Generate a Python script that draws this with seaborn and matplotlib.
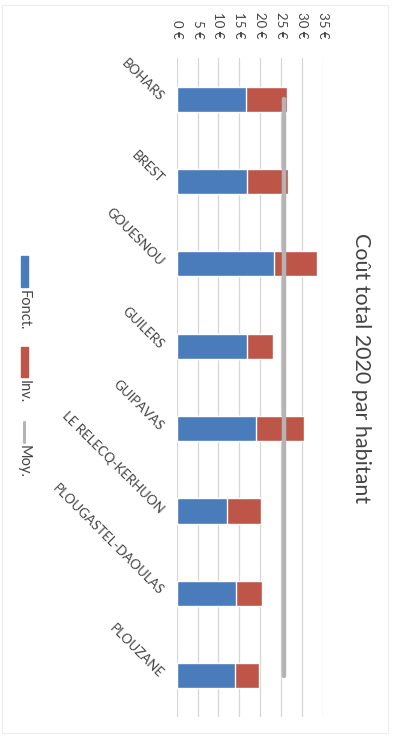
import numpy as np
import pandas as pd
import matplotlib
matplotlib.use("Agg")
import matplotlib.pyplot as plt
from matplotlib.patches import Rectangle
from matplotlib.lines import Line2D
import seaborn as sns

# Coût par habitant 2020 (€)
communes = ["BOHARS", "BREST", "GOUESNOU", "GUILERS", "GUIPAVAS",
            "LE RELECQ-KERHUON", "PLOUGASTEL-DAOULAS", "PLOUZANE"]
fonct = [16.6, 16.9, 23.3, 16.8, 19.0, 12.0, 14.1, 14.0]
inv = [9.9, 9.9, 10.3, 6.2, 11.4, 8.1, 6.4, 5.7]
moy = [25.8] * len(communes)
value_ticks = [0, 5, 10, 15, 20, 25, 30, 35]
title = "Coût total 2020 par habitant"
legend_labels = ["Fonct.", "Inv.", "Moy."]

BLUE = "#4a7bbb"
RED = "#bd5548"
GREY = "#b4b4b4"
TEXT = "#444444"

df = pd.DataFrame({"commune": communes, "fonct": fonct, "inv": inv, "moy": moy})
df["total"] = df["fonct"] + df["inv"]

sns.set_theme(style="white")
plt.rcParams["font.family"] = ["Lato", "DejaVu Sans"]

W, H = 396, 736
fig = plt.figure(figsize=(W / 100, H / 100), dpi=100)
fig.patch.set_facecolor("white")

# plot area in pixel coordinates
x0, x1 = 176.7, 322.7
y_top, y_bot = 58.0, 716.9
ax = fig.add_axes([x0 / W, 1 - y_bot / H, (x1 - x0) / W, (y_bot - y_top) / H])

sns.barplot(data=df, x="total", y="commune", color=RED, width=0.305,
            saturation=1, ax=ax, orient="h")
sns.barplot(data=df, x="fonct", y="commune", color=BLUE, width=0.305,
            saturation=1, ax=ax, orient="h")
sns.lineplot(x=df["moy"].to_numpy(), y=np.arange(len(communes)), orient="y",
             sort=False, color=GREY, lw=3.2, ax=ax, zorder=3)

ax.set_xlim(0, 35)
ax.set_ylim(len(communes) - 0.5, -0.5)
ax.set_xlabel("")
ax.set_ylabel("")
for s in ax.spines.values():
    s.set_visible(False)

ax.set_xticks(value_ticks)
ax.set_xticklabels([f"{v} €" for v in value_ticks])
ax.xaxis.tick_top()
ax.tick_params(axis="x", length=0, pad=14, labelsize=9.5, labelcolor=TEXT)
for lab in ax.get_xticklabels():
    lab.set_rotation(-90)
    lab.set_ha("center")
    lab.set_va("bottom")
ax.grid(axis="x", color="#d6d6d6", lw=0.9)
ax.set_axisbelow(True)

ax.set_yticks(range(len(communes)))
ax.set_yticklabels(communes)
ax.tick_params(axis="y", length=0, pad=11, labelsize=9.5, labelcolor=TEXT)
for lab in ax.get_yticklabels():
    lab.set_rotation(-45)
    lab.set_rotation_mode("anchor")
    lab.set_ha("right")
    lab.set_va("center")

# title, reading downward along the right side
fig.text(361 / W, 1 - 368 / H, title, rotation=-90, ha="center", va="center",
         fontsize=15.5, color=TEXT)

# legend down the left side
def px(x, y):
    return x / W, 1 - y / H

leg_items = [
    ("patch", BLUE, 256, 287, legend_labels[0], 290),
    ("patch", RED, 347, 377, legend_labels[1], 380),
    ("line", GREY, 422, 442, legend_labels[2], 445),
]
for kind, col, ya, yb, lab, ty in leg_items:
    if kind == "patch":
        fig.patches.append(Rectangle(px(20.5, yb), 7 / W, (yb - ya) / H,
                                     transform=fig.transFigure, color=col))
    else:
        fig.lines.append(Line2D([24 / W, 24 / W], [1 - ya / H, 1 - yb / H],
                                transform=fig.transFigure, color=col, lw=2.2))
    fig.text(24 / W, 1 - ty / H, lab, rotation=-90, ha="center", va="top",
             fontsize=10.5, color=TEXT)

# faint chart frame
fig.patches.append(Rectangle((2 / W, 3 / H), 386 / W, 728 / H, fill=False,
                             transform=fig.transFigure, ec="#ececec", lw=0.8))

fig.savefig("out.png", dpi=100, facecolor="white")
